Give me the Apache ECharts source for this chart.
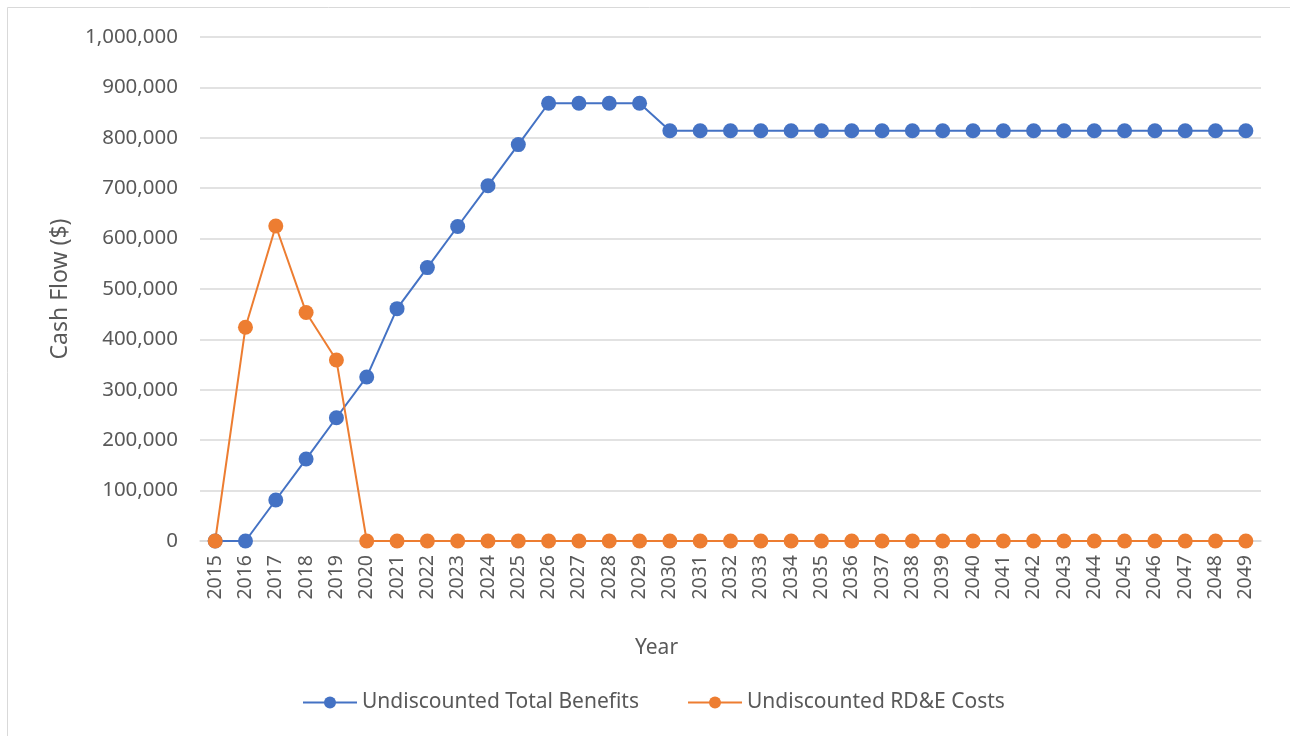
<!DOCTYPE html>
<html>
<head>
<meta charset="utf-8">
<script src="https://cdn.jsdelivr.net/npm/echarts@6/dist/echarts.min.js"></script>
<style>
  html, body { margin: 0; padding: 0; background: #fff; }
  #chart { width: 1290px; height: 736px; }
</style>
</head>
<body>
<div id="chart"></div>
<script>
const years = ['2015', '2016', '2017', '2018', '2019', '2020', '2021', '2022', '2023', '2024',
  '2025', '2026', '2027', '2028', '2029', '2030', '2031', '2032', '2033', '2034',
  '2035', '2036', '2037', '2038', '2039', '2040', '2041', '2042', '2043', '2044',
  '2045', '2046', '2047', '2048', '2049'];

const totalBenefits = [0, 0, 81300, 162600, 244500, 325500, 461000, 542500, 624000, 705000,
  786500, 868500, 868500, 868500, 868500, 814000, 814000, 814000, 814000, 814000,
  814000, 814000, 814000, 814000, 814000, 814000, 814000, 814000, 814000, 814000,
  814000, 814000, 814000, 814000, 814000];

const rdeCosts = [0, 424000, 625000, 453500, 359000, 0, 0, 0, 0, 0,
  0, 0, 0, 0, 0, 0, 0, 0, 0, 0,
  0, 0, 0, 0, 0, 0, 0, 0, 0, 0,
  0, 0, 0, 0, 0];

const font = 'Noto Sans';
const textColor = '#595959';
const gridColor = '#d9d9d9';

const chart = echarts.init(document.getElementById('chart'));

chart.setOption({
  backgroundColor: '#fff',
  animation: false,
  textStyle: { fontFamily: font, color: textColor },
  graphic: [{
    type: 'rect',
    shape: { x: 7.5, y: 7.5, width: 1300, height: 800 },
    style: { fill: 'none', stroke: gridColor, lineWidth: 1 },
    silent: true
  }],
  grid: { left: 200, right: 29, top: 37, bottom: 195 },
  legend: {
    bottom: 18,
    left: 297,
    itemWidth: 54,
    itemHeight: 15,
    itemGap: 48,
    textStyle: { fontFamily: font, fontSize: 21, color: textColor },
    data: ['Undiscounted Total Benefits', 'Undiscounted RD&E Costs']
  },
  xAxis: {
    type: 'category',
    data: years,
    boundaryGap: true,
    name: 'Year',
    nameLocation: 'middle',
    nameGap: 97,
    // Excel puts the title left of the plot centre
    nameTextStyle: { fontFamily: font, fontSize: 21, color: textColor, padding: [0, 148, 0, 0] },
    axisLine: { lineStyle: { color: gridColor, width: 1.5 } },
    axisTick: { show: false },
    axisLabel: { rotate: 90, margin: 14, fontFamily: font, fontSize: 19.5, color: textColor, interval: 0 }
  },
  yAxis: {
    type: 'value',
    min: 0,
    max: 1000000,
    interval: 100000,
    name: 'Cash Flow ($)',
    nameLocation: 'middle',
    nameGap: 128,
    nameTextStyle: { fontFamily: font, fontSize: 23, color: textColor },
    axisLine: { show: false },
    axisTick: { show: false },
    splitLine: { lineStyle: { color: gridColor, width: 1.5 } },
    axisLabel: {
      margin: 22,
      fontFamily: font,
      fontSize: 20.5,
      color: textColor,
      formatter: v => v.toLocaleString('en-US')
    }
  },
  series: [
    {
      name: 'Undiscounted Total Benefits',
      type: 'line',
      data: totalBenefits,
      symbol: 'circle',
      symbolSize: 15,
      color: '#4472C4',
      lineStyle: { width: 2, color: '#4472C4' },
      itemStyle: { color: '#4472C4' }
    },
    {
      name: 'Undiscounted RD&E Costs',
      type: 'line',
      data: rdeCosts,
      symbol: 'circle',
      symbolSize: 15,
      color: '#ED7D31',
      lineStyle: { width: 2, color: '#ED7D31' },
      itemStyle: { color: '#ED7D31' }
    }
  ]
});

window.addEventListener('resize', () => chart.resize());
</script>
</body>
</html>
